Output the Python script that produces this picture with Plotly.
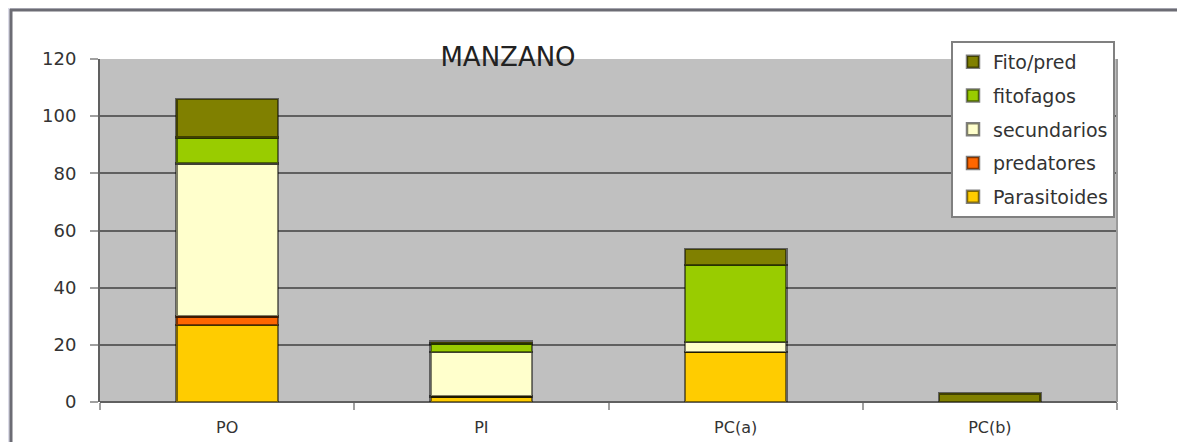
import plotly.graph_objects as go

# datos (MANZANO)
categorias = ["PO", "PI", "PC(a)", "PC(b)"]
parasitoides = [27, 2, 17.5, 0]
predatores = [3, 0, 0, 0]
secundarios = [53.5, 15.5, 3.5, 0]
fitofagos = [9, 3, 27, 0]
fito_pred = [13.5, 0.6, 5.5, 3]

series = [
    ("Parasitoides", parasitoides, "#ffcc00"),
    ("predatores", predatores, "#ff6600"),
    ("secundarios", secundarios, "#ffffcc"),
    ("fitofagos", fitofagos, "#99cc00"),
    ("Fito/pred", fito_pred, "#808000"),
]

fig = go.Figure()
for i, (nombre, vals, color) in enumerate(series):
    fig.add_trace(go.Bar(
        x=categorias, y=vals, name=nombre, legendgroup=nombre,
        legendrank=len(series) - i,
        marker=dict(color=color, line=dict(color="rgba(0,0,0,0.5)", width=2.5)),
    ))

font = "DejaVu Sans, sans-serif"

# la pagina tiene 8px de margen en el body, se compensa aqui
W, H = 1185, 442
ml, mt, pw, ph = 92, 51, 1017, 343
px = lambda v: (v - 8 - ml) / pw          # x de pagina -> paper
py = lambda v: (mt + ph - (v - 8)) / ph   # y de pagina -> paper
lavanda = "#dcdce8"

fig.update_layout(
    width=W, height=H,
    barmode="stack", bargap=0.6,
    margin=dict(l=ml, r=W - ml - pw, t=mt, b=H - mt - ph),
    paper_bgcolor="white",
    plot_bgcolor="#c0c0c0",
    font=dict(family=font, color="#333333"),
    title=dict(text="MANZANO", x=px(508), xref="paper", xanchor="center",
               y=1 - (57 - 8) / H, yref="container", yanchor="middle",
               font=dict(size=26, color="#222222", family=font)),
    showlegend=True,
    legend=dict(x=px(951), y=py(41), xanchor="left", yanchor="top",
                bgcolor="white", bordercolor="#808080", borderwidth=2,
                traceorder="grouped", tracegroupgap=6,
                font=dict(size=19, family=font, color="#333333")),
    shapes=[
        # fondo lavanda fuera del marco
        dict(type="rect", xref="paper", yref="paper", layer="below",
             x0=px(-20), x1=px(10), y0=py(500), y1=py(-20),
             fillcolor=lavanda, line_width=0),
        dict(type="rect", xref="paper", yref="paper", layer="below",
             x0=px(-20), x1=px(1300), y0=py(9), y1=py(-20),
             fillcolor=lavanda, line_width=0),
        # marco del grafico
        dict(type="line", xref="paper", yref="paper", layer="below",
             x0=px(10), x1=px(1300), y0=py(10), y1=py(10),
             line=dict(color="#6c6c74", width=3)),
        dict(type="line", xref="paper", yref="paper", layer="below",
             x0=px(11), x1=px(11), y0=py(9), y1=py(500),
             line=dict(color="#6c6c74", width=3)),
        # borde derecho del area de trazado
        dict(type="line", xref="paper", yref="paper", x0=1, x1=1, y0=0, y1=1,
             line=dict(color="#9a9a9a", width=2)),
    ],
)

fig.update_xaxes(
    type="category", showgrid=False, showline=False,
    ticks="outside", tickson="boundaries", ticklen=7, tickcolor="#a0a0a0", tickwidth=2,
    tickfont=dict(size=16, family=font, color="#333333"),
    ticklabelstandoff=14,
)
fig.update_yaxes(
    range=[0, 120], dtick=20,
    showgrid=True, gridcolor="#606060", gridwidth=2,
    zeroline=True, zerolinecolor="#606060", zerolinewidth=2,
    showline=True, linecolor="#606060", linewidth=2,
    ticks="outside", ticklen=8, tickcolor="#a0a0a0", tickwidth=2,
    tickfont=dict(size=18, family=font, color="#333333"),
    ticklabelstandoff=10,
)

fig.write_html("out.html")
